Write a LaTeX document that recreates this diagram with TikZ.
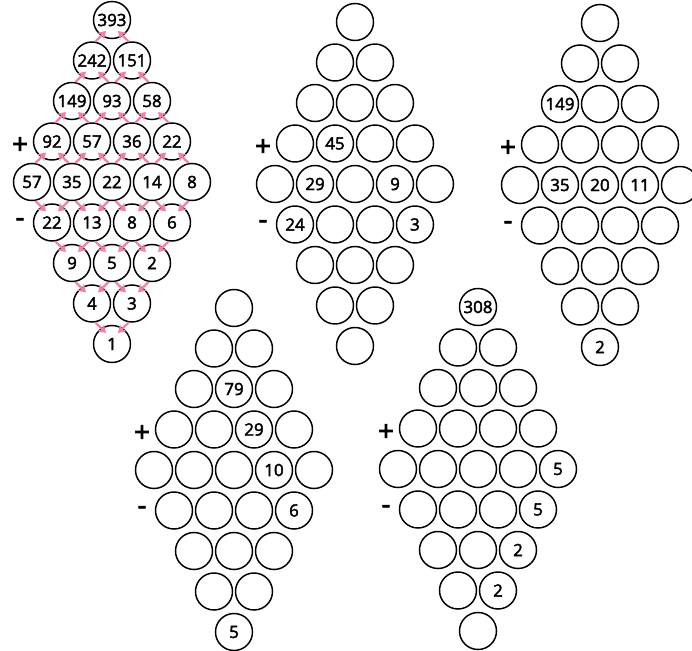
\documentclass[tikz,border=0pt]{standalone}
\usepackage{fontspec}
\setmainfont{Open Sans}
\newfontfamily\numfont[FakeBold=2.5]{Open Sans}
\usetikzlibrary{arrows.meta,calc}
\definecolor{linkpink}{RGB}{238,130,172}
\tikzset{
  ring/.style={circle,draw,line width=1.05pt,fill=white,minimum size=0.925cm,inner sep=0pt,font=\numfont\fontsize{12}{14}\selectfont},
  sign/.style={inner sep=0pt,font=\numfont\fontsize{20}{22}\selectfont},
  link/.style={draw=linkpink,line width=1.6pt,-{Stealth[length=5.5pt,width=7pt]}}
}
\def\blankmark{x}
\newcommand\diamondgrid[4]{%
  \foreach \lst [count=\r] in {#4} {
    \pgfmathtruncatemacro\n{min(\r,10-\r)}
    \foreach \lab [count=\k] in \lst
      \node[ring] (#1-\r-\k) at ({#2+(\k-(\n+1)/2)*40},{#3+(\r-1)*40.5}) {\ifx\lab\blankmark\else\lab\fi};
  }
  \node[sign] (#1-plus) at (#2-92,{#3+3*40.5+4}) {+};
  \node[sign] (#1-minus) at (#2-92,{#3+5*40.5}) {-};
}
\begin{document}
\begin{tikzpicture}[x=0.025cm,y=-0.025cm]
  \useasboundingbox (0,0) rectangle (692,651);
  \diamondgrid{a}{112}{20}{{393},{242,151},{149,93,58},{92,57,36,22},{57,35,22,14,8},{22,13,8,6},{9,5,2},{4,3},{1}}
  \diamondgrid{b}{355}{22}{{x},{x,x},{x,x,x},{x,45,x,x},{x,29,x,9,x},{24,x,x,3},{x,x,x},{x,x},{x}}
  \diamondgrid{c}{600}{23}{{x},{x,x},{149,x,x},{x,x,x,x},{x,35,20,11,x},{x,x,x,x},{x,x,x},{x,x},{2}}
  \diamondgrid{d}{234}{308}{{x},{x,x},{x,79,x},{x,x,29,x},{x,x,x,10,x},{x,x,x,6},{x,x,x},{x,x},{5}}
  \diamondgrid{e}{478}{307}{{308},{x,x},{x,x,x},{x,x,x,x},{x,x,x,x,5},{x,x,x,5},{x,x,2},{x,2},{x}}
  \foreach \r in {1,...,4}
    \foreach \k in {1,...,\r} {
      \pgfmathtruncatemacro\s{\r+1}
      \pgfmathtruncatemacro\t{\k+1}
      \draw[link] (a-\s-\k.80) -- ($(a-\r-\k)+(-6,11)$);
      \draw[link] (a-\s-\t.100) -- ($(a-\r-\k)+(6,11)$);
    }
  \foreach \r in {6,...,9} {
    \pgfmathtruncatemacro\n{10-\r}
    \pgfmathtruncatemacro\s{\r-1}
    \foreach \k in {1,...,\n} {
      \pgfmathtruncatemacro\t{\k+1}
      \draw[link] (a-\s-\k.280) -- ($(a-\r-\k)+(-6,-11)$);
      \draw[link] (a-\s-\t.260) -- ($(a-\r-\k)+(6,-11)$);
    }
  }
\end{tikzpicture}
\end{document}
